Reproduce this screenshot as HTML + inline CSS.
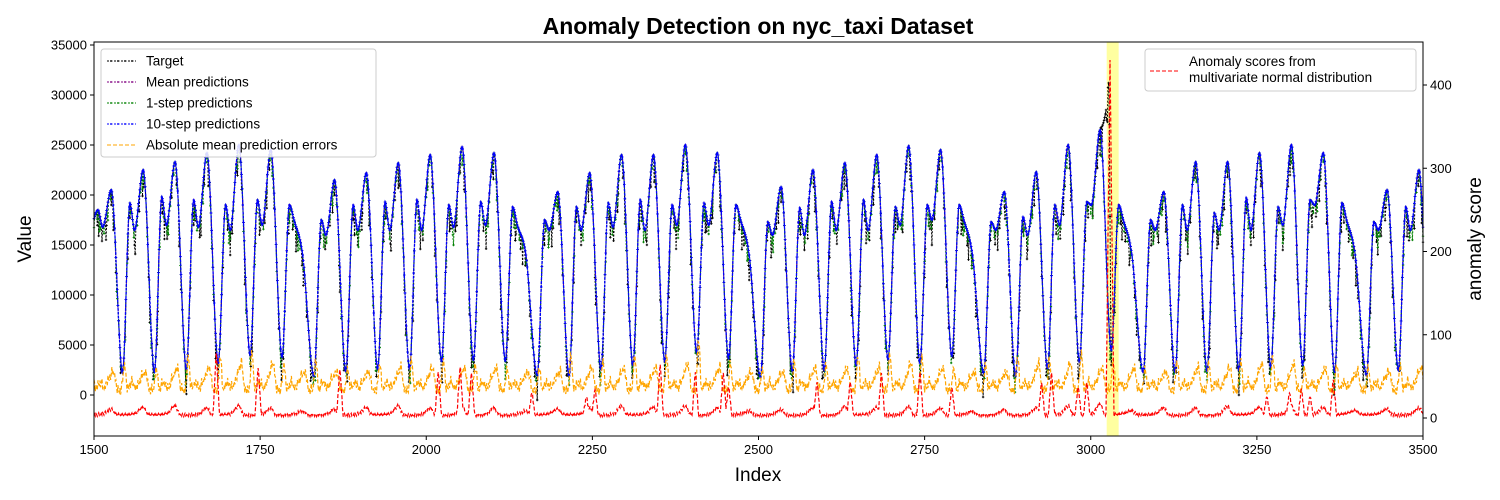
<!DOCTYPE html>
<html><head><meta charset="utf-8"><style>
html,body{margin:0;padding:0;background:#fff;}
svg{display:block;font-family:"Liberation Sans","DejaVu Sans",sans-serif;}
</style></head><body>
<svg id="chart" width="1500" height="500" viewBox="0 0 1500 500">
<text x="758" y="34" text-anchor="middle" font-size="23" font-weight="bold">Anomaly Detection on nyc_taxi Dataset</text>
<g id="plot"></g>
<g id="axes"></g>
</svg>
<script>
// ---- Data (per-day keypoints, day k trough at index 1543+48k, k=-1..41) ----
const dayTroughVal = [16500,2200,2300,2600,3200,4000,3800,1900,2400,2600,2600,3400,3500,3400,2000,1900,2600,3000,3400,4300,3700,1800,2400,2500,3000,3600,3200,3900,2200,1900,2700,3300,4500,2300,2300,2400,2500,2800,3000,2300,2000,2500,2500];
const dayBumpVal = [18500,19200,19800,19500,19000,19500,19000,17500,19000,19300,19500,19000,19300,18800,17500,18800,19200,19500,19000,19200,19000,17300,18700,19300,19500,18800,19000,19000,17300,17800,19000,19300,19000,17500,19000,18200,19700,18800,19500,19200,17300,18800,17000];
const dayDipVal = [16800,16500,17000,16800,16500,17000,17500,16000,16500,16500,16500,16800,17000,17000,16500,16500,16800,16500,17000,17000,17500,16000,16000,16500,16500,17000,17500,17500,16500,16000,17000,19000,17500,16500,16500,16500,16500,17000,19000,17500,16500,16500,16500];
const dayPeakVal = [20500,22500,23300,24200,25000,24500,14000,21500,22200,23200,24000,24800,24200,14000,20300,22200,24000,24000,25000,24200,14000,20800,22500,23200,24000,24900,24500,14000,20300,22300,25000,26500,14000,20300,23300,23300,24200,25000,24200,14000,20500,22500,20000];
const targetExtraIdx = [3018,3024,3027];
const targetExtraVal = [27000,29000,31200];
const errRiseVal = [3000,3500,3000,4500,4500,4800,3500,4000,3000,3500,4000,4000,3500,3000,3000,4500,4000,4500,4500,6500,3500,3000,4000,3500,4500,4500,4500,3000,3500,4500,4000,5000,4000,3000,4000,3500,4000,4500,3000,3500,3000,3500,3000];
const errFallVal = [2500,2500,3000,3000,3500,3500,2500,2500,2500,3000,3000,3000,3000,2500,2500,3000,3000,3000,3500,3000,2500,2500,3000,3000,3000,3500,3000,2500,2500,3500,3500,3000,3000,2500,3000,3000,3500,3500,3000,2500,2500,3000,2500];
const scoreDailyVal = [10,12,14,12,14,12,8,10,12,14,12,14,12,8,10,12,14,12,14,12,8,10,12,14,12,14,12,8,10,12,14,16,8,12,12,14,12,14,12,8,10,12,10];
const scoreSpikeIdx = [1684,1747,1870,2018,2051,2068,2159,2241,2254,2352,2405,2447,2455,2588,2638,2685,2743,2791,2926,2941,2981,2994,3029,3265,3299,3317,3330,3365];
const scoreSpikeVal = [78,60,58,55,61,54,30,25,34,64,55,54,37,43,43,54,55,36,42,54,37,42,430,25,30,34,25,46];
const xTicks = [1500,1750,2000,2250,2500,2750,3000,3250,3500];
const yTicks = [0,5000,10000,15000,20000,25000,30000,35000];
const y2Ticks = [0,100,200,300,400];
const anomalySpan = [3024,3042];

// ---- Scales ----
const X0=94,X1=1423,Y0=42,Y1=436;
const xs = i => X0 + (i-1500)*(X1-X0)/2000;
const ys = v => 395 - v*0.01;
const ys2 = s => 418 - s*0.8325;
const NS='http://www.w3.org/2000/svg';
const plot=document.getElementById('plot'), axes=document.getElementById('axes');
function mk(tag,attrs,parent){const e=document.createElementNS(NS,tag);for(const k in attrs)e.setAttribute(k,attrs[k]);parent.appendChild(e);return e;}

function monotone(px,py){
  const n=px.length,d=[],m=new Array(n);
  for(let i=0;i<n-1;i++)d.push((py[i+1]-py[i])/(px[i+1]-px[i]));
  m[0]=d[0];m[n-1]=d[n-2];
  for(let i=1;i<n-1;i++){m[i]=(d[i-1]*d[i]<=0)?0:(d[i-1]+d[i])/2;}
  for(let i=0;i<n-1;i++){if(d[i]===0){m[i]=0;m[i+1]=0;continue;}const a=m[i]/d[i],b=m[i+1]/d[i],s=a*a+b*b;if(s>9){const t=3/Math.sqrt(s);m[i]=t*a*d[i];m[i+1]=t*b*d[i];}}
  return x=>{if(x<=px[0])return py[0];if(x>=px[n-1])return py[n-1];
    let lo=0,hi=n-1;while(hi-lo>1){const mid=(lo+hi)>>1;if(px[mid]<=x)lo=mid;else hi=mid;}const j=lo;
    const h=px[j+1]-px[j],t=(x-px[j])/h,t2=t*t,t3=t2*t;
    return (2*t3-3*t2+1)*py[j]+(t3-2*t2+t)*h*m[j]+(-2*t3+3*t2)*py[j+1]+(t3-t2)*h*m[j+1];};
}
function dayStart(k){return 1543+48*(k-1);}
function valueCurve(extra){
  const px=[],py=[];
  for(let k=0;k<dayTroughVal.length;k++){const t=dayStart(k);
    px.push(t,t+11,t+18,t+31);py.push(dayTroughVal[k],dayBumpVal[k],dayDipVal[k],dayPeakVal[k]);}
  if(extra){for(let j=0;j<targetExtraIdx.length;j++){let p=px.findIndex(v=>v>targetExtraIdx[j]);px.splice(p,0,targetExtraIdx[j]);py.splice(p,0,targetExtraVal[j]);}}
  return monotone(px,py);
}
const targetF=valueCurve(true), predF=valueCurve(false);
const jit=[0,300,-150,450,100,-250,600,50,-100,350,-300,200,800,-50,150];
function errCurve(){const px=[],py=[];
  for(let k=0;k<errRiseVal.length;k++){const t=dayStart(k);
    px.push(t-2,t+3,t+7,t+14,t+20,t+26,t+35,t+40);py.push(400,errRiseVal[k],600,1300,700,1600,errFallVal[k],500);}
  const f=monotone(px,py);return i=>Math.max(0,f(i)*0.85+jit[i%jit.length]);}
const errF=errCurve();
const sjit=[0,1.5,-1,2,0.5,-1.5,1,2.5,-0.5,1];
function scoreCurve(){const px=[],py=[];
  for(let k=0;k<scoreDailyVal.length;k++){const t=dayStart(k);px.push(t,t+20,t+31,t+38);py.push(3,5,scoreDailyVal[k],4);}
  const f=monotone(px,py);
  return i=>{let v=f(i)+sjit[i%sjit.length];for(let j=0;j<scoreSpikeIdx.length;j++){const w=scoreSpikeVal[j]>200?6:5;const dd=Math.abs(i-scoreSpikeIdx[j]);if(dd<w)v=Math.max(v,scoreSpikeVal[j]*(1-dd/w)+(dd%2)*4);}return v;};}
const scoreF=scoreCurve();

const span=mk('rect',{x:xs(anomalySpan[0]),y:Y0,width:xs(anomalySpan[1])-xs(anomalySpan[0]),height:Y1-Y0,fill:'#ffff80',opacity:0.75},plot);



function series(f,yf,color,name,dash,markers,off,sw){
  let d='',md='';
  for(let i=1500;i<=3500;i++){const x=xs(i),y=yf(f(i)+(off?off(i):0));d+=(i===1500?'M':'L')+x.toFixed(1)+' '+y.toFixed(1);
    if(markers)md+='M'+(x-1.2).toFixed(1)+' '+y.toFixed(1)+'h2.4M'+x.toFixed(1)+' '+(y-1.2).toFixed(1)+'v2.4';}
  const g=mk('g',{},plot);
  
  
  mk('path',{d:d,fill:'none',stroke:color,'stroke-width':sw||1,'stroke-dasharray':dash},g);
  if(markers)mk('path',{d:md,fill:'none',stroke:color,'stroke-width':0.9},g);
}
series(targetF,ys,'#000','target-series','2,1.5',true,i=>(i%7===0)?-1500:(i%11===0)?-2500:0);
series(predF,ys,'#800080','mean-predictions-series','2,1.5',true,null);
series(predF,ys,'#008000','one-step-predictions-series','2,1.5',true,i=>(i%5===0)?-900:(i%13===0)?-1800:0);
series(predF,ys,'#0000ff','ten-step-predictions-series','3,1',true,null,1.3);
series(errF,ys,'#ffa500','prediction-error-series','4,2',false,null,1.2);
series(scoreF,ys2,'#ff0000','anomaly-score-series','4,2',false,null,1.2);

const fr=mk('rect',{x:X0,y:Y0,width:X1-X0,height:Y1-Y0,fill:'none',stroke:'#000','stroke-width':1},axes);


xTicks.forEach(v=>{const x=xs(v);mk('line',{x1:x,x2:x,y1:Y1,y2:Y1+4,stroke:'#000'},axes);
  const t=mk('text',{x:x,y:Y1+18,'font-size':13,'text-anchor':'middle'},axes);t.textContent=v;
  
  });
yTicks.forEach(v=>{const y=ys(v);mk('line',{x1:X0-4,x2:X0,y1:y,y2:y,stroke:'#000'},axes);
  const t=mk('text',{x:X0-7,y:y+4.5,'font-size':13,'text-anchor':'end'},axes);t.textContent=v;
  
  });
y2Ticks.forEach(v=>{const y=ys2(v);mk('line',{x1:X1,x2:X1+4,y1:y,y2:y,stroke:'#000'},axes);
  const t=mk('text',{x:X1+7,y:y+4.5,'font-size':13,'text-anchor':'start'},axes);t.textContent=v;
  
  });
let t=mk('text',{x:758,y:481,'font-size':19,'text-anchor':'middle'},axes);t.textContent='Index';


t=mk('text',{x:31,y:239,'font-size':19,'text-anchor':'middle',transform:'rotate(-90 31 239)'},axes);t.textContent='Value';


t=mk('text',{x:1481,y:239,'font-size':19,'text-anchor':'middle',transform:'rotate(-90 1481 239)'},axes);t.textContent='anomaly score';



const lg=mk('g',{},axes);


mk('rect',{x:101,y:49,width:275,height:108,rx:3,fill:'#fff','fill-opacity':0.85,stroke:'#ccc'},lg);
const entries=[['Target','#000','2,1.5',true],['Mean predictions','#800080','2,1.5',true],['1-step predictions','#008000','2,1.5',true],['10-step predictions','#0000ff','2,1.5',true],['Absolute mean prediction errors','#ffa500','4,2',false]];
entries.forEach((e,i)=>{const y=61+i*21;const g=mk('g',{},lg);
  
  
  mk('line',{x1:107,x2:136,y1:y,y2:y,stroke:e[1],'stroke-dasharray':e[2]},g);
  if(e[3])for(let x=111;x<=133;x+=7)mk('path',{d:`M${x-1} ${y}h2M${x} ${y-1}v2`,stroke:e[1],'stroke-width':0.8},g);
  const tt=mk('text',{x:146,y:y+4.5,'font-size':13.5},g);tt.textContent=e[0];});
const lg2=mk('g',{},axes);


mk('rect',{x:1145,y:49,width:271,height:42,rx:3,fill:'#fff','fill-opacity':0.85,stroke:'#ccc'},lg2);
mk('line',{x1:1150,x2:1179,y1:71,y2:71,stroke:'#f00','stroke-dasharray':'4,2'},lg2);
t=mk('text',{x:1189,y:66,'font-size':13.5},lg2);t.textContent='Anomaly scores from';
t=mk('text',{x:1189,y:82,'font-size':13.5},lg2);t.textContent='multivariate normal distribution';
</script>
</body></html>
